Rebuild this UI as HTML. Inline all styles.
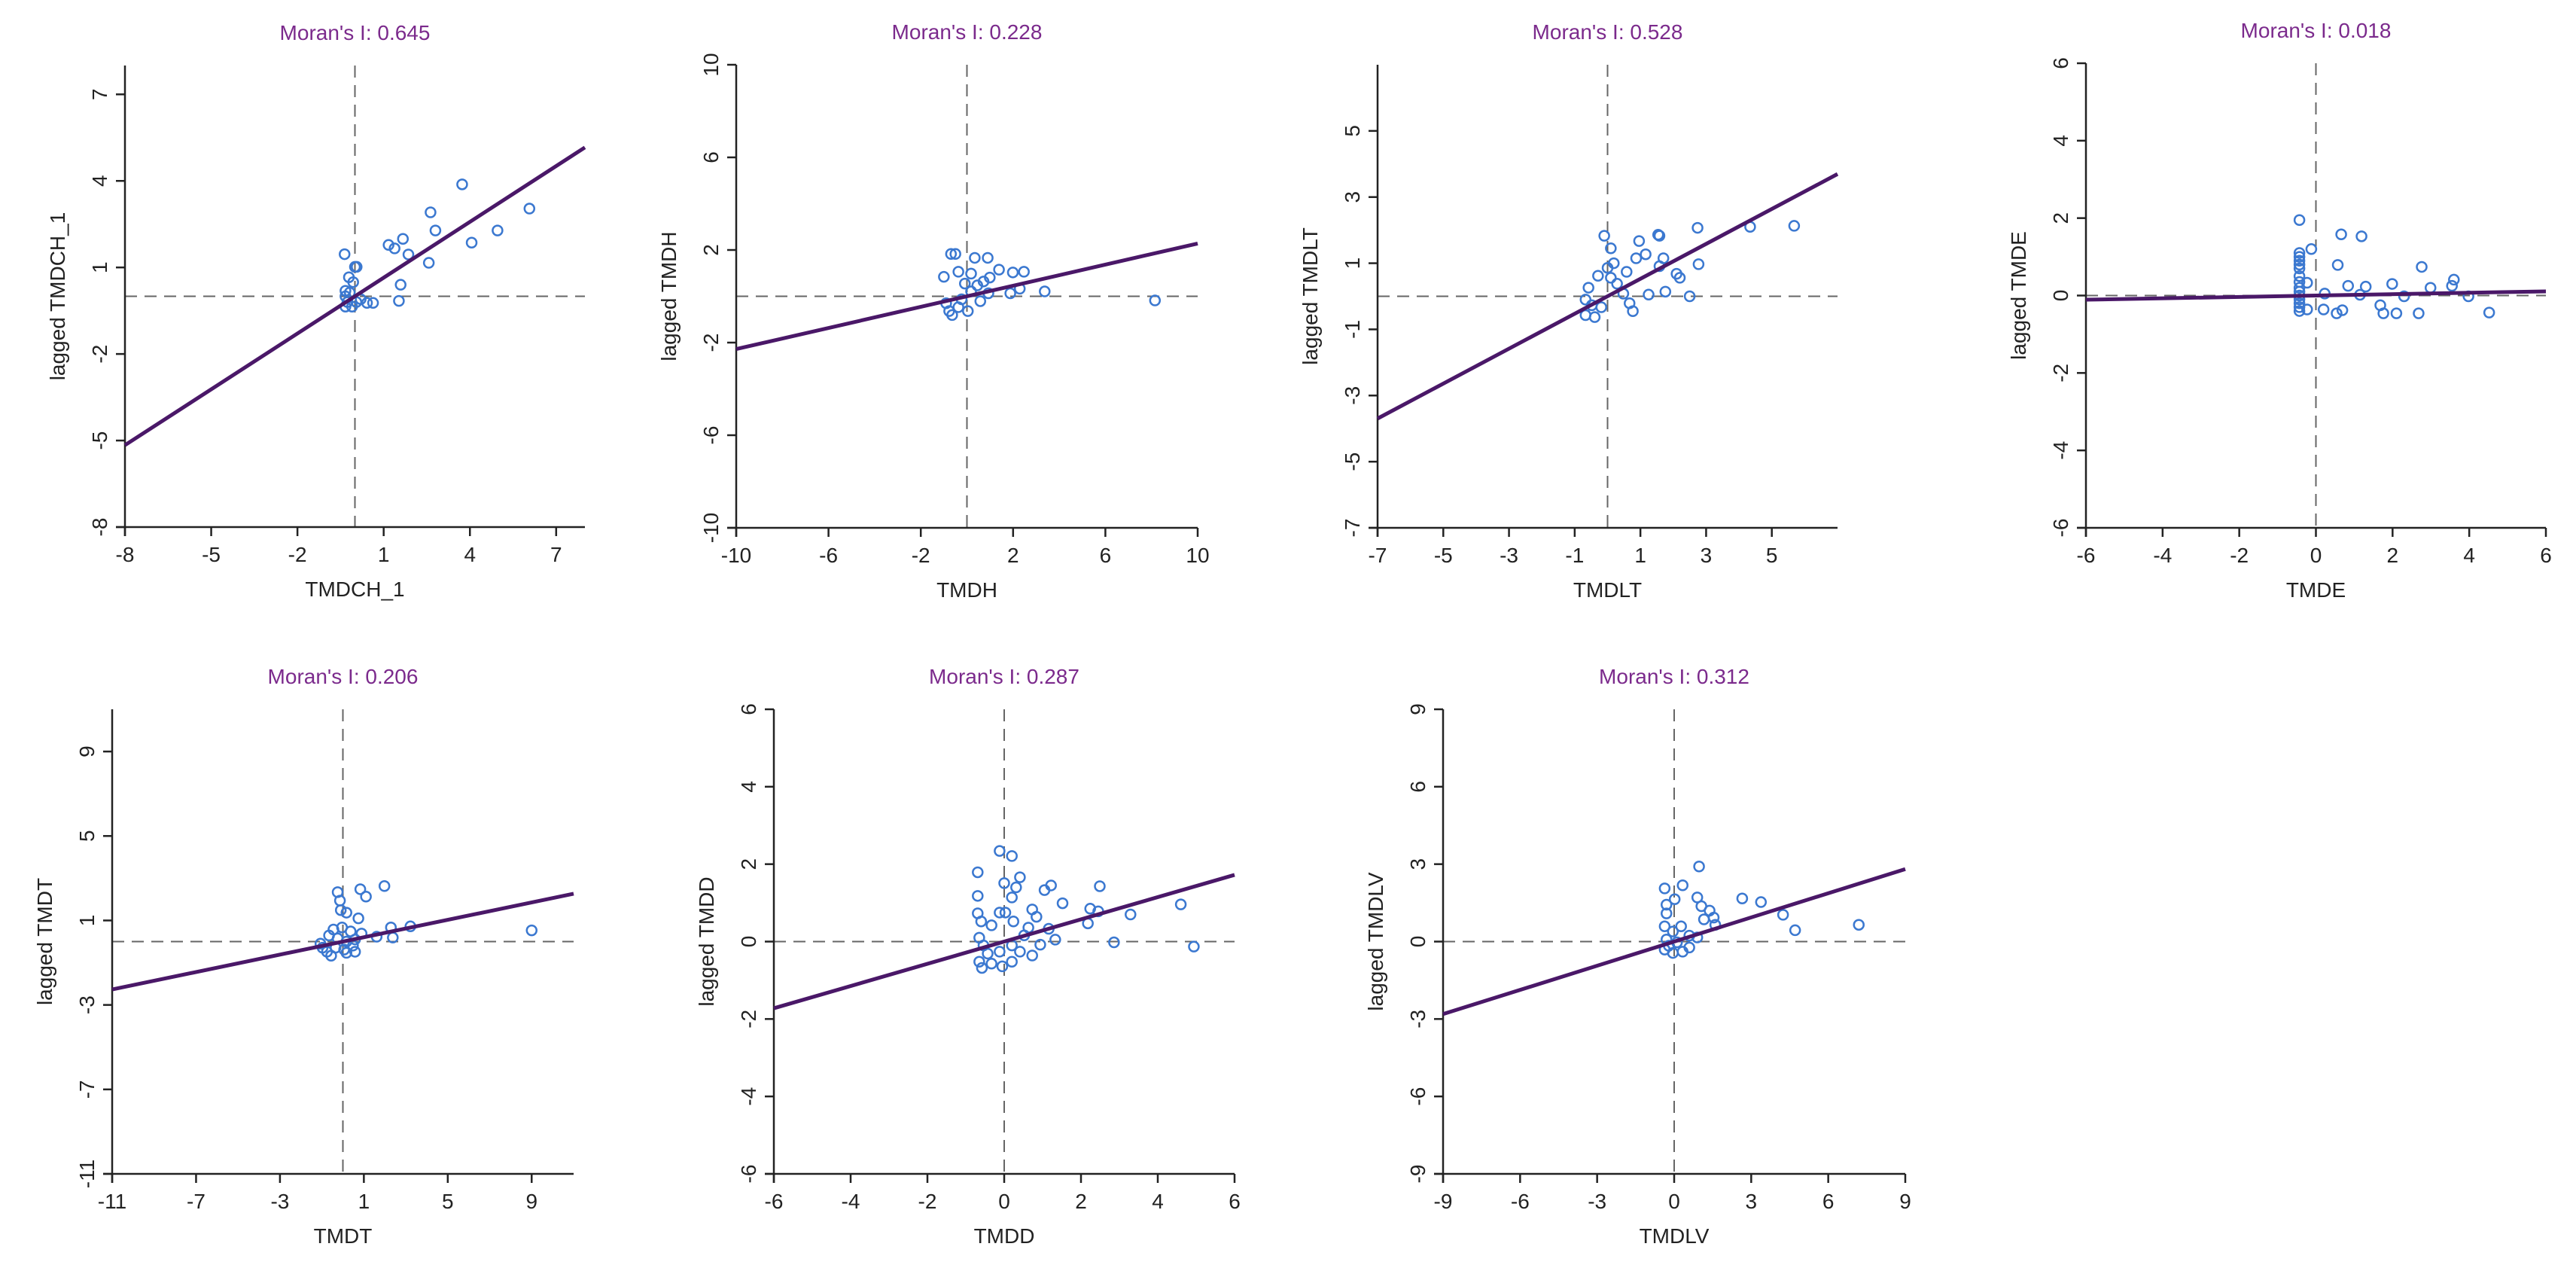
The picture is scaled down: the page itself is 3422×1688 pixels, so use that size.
<!DOCTYPE html>
<html><head><meta charset="utf-8"><style>
html,body{margin:0;padding:0;background:#fff;}
svg{display:block;font-family:"Liberation Sans",Arial,sans-serif;}
</style></head><body>
<svg id="chart" width="3422" height="1688" viewBox="0 0 3422 1688" xmlns="http://www.w3.org/2000/svg"></svg>
<script>
// ----- data -----
const panelVars = ["TMDCH_1","TMDH","TMDLT","TMDE","TMDT","TMDD","TMDLV"];
const moranI = [0.645,0.228,0.528,0.018,0.206,0.287,0.312];
const ranges = [8,10,7,6,11,6,9];
const ticks1 = [-8,-5,-2,1,4,7];
const ticks2 = [-10,-6,-2,2,6,10];
const ticks3 = [-7,-5,-3,-1,1,3,5];
const ticks4 = [-6,-4,-2,0,2,4,6];
const ticks5 = [-11,-7,-3,1,5,9];
const ticks6 = [-6,-4,-2,0,2,4,6];
const ticks7 = [-9,-6,-3,0,3,6,9];
const p1X = [3.73,6.07,2.63,2.80,4.96,4.06,1.67,1.17,1.38,1.86,2.57,1.59,1.53,-0.36,0,0.06,-0.21,-0.06,-0.33,-0.33,-0.26,-0.33,-0.1,0.05,0.2,0.42,0.63,-0.18];
const p1Y = [3.88,3.04,2.91,2.28,2.28,1.86,1.99,1.78,1.66,1.45,1.16,0.40,-0.16,1.46,1.02,1.02,0.66,0.49,0.19,0,-0.2,-0.36,-0.36,-0.2,-0.1,-0.23,-0.23,0.13];
const p2X = [-0.69,-0.5,0.34,0.9,-1,-0.37,0.18,1.39,1.99,2.47,2.29,1.88,3.37,8.15,-0.9,-0.77,-0.64,-0.37,0.04,-0.23,0.18,0.45,0.72,0.99,0.58,0.93,-0.09];
const p2Y = [1.83,1.83,1.66,1.66,0.84,1.06,0.98,1.15,1.03,1.06,0.33,0.13,0.21,-0.18,-0.3,-0.64,-0.81,-0.47,-0.64,-0.13,0.21,0.47,0.64,0.81,-0.21,0.13,0.55];
const p3X = [-0.1,0.1,0.96,1.54,1.16,0.87,0.19,0,-0.29,-0.58,-0.67,-0.67,-0.39,-0.19,-0.48,0.29,0.48,0.67,0.77,1.25,0.1,0.58,2.74,4.34,5.68,2.77,2.1,2.2,1.76,2.5,1.7,1.58,1.58];
const p3Y = [1.83,1.45,1.67,1.86,1.27,1.15,1.0,0.86,0.62,0.26,-0.1,-0.57,-0.63,-0.33,-0.27,0.38,0.08,-0.21,-0.45,0.05,0.56,0.74,2.07,2.1,2.13,0.97,0.68,0.56,0.14,0,1.15,1.83,0.91];
const p4X = [-0.43,-0.43,-0.43,-0.43,-0.43,-0.43,-0.43,-0.43,-0.43,-0.43,-0.43,-0.43,-0.43,-0.43,-0.43,-0.12,0.66,1.19,0.57,2.76,-0.23,0.84,1.3,1.99,2.99,3.6,3.55,3.98,2.3,0.23,1.15,0.2,0.54,0.69,1.68,1.76,2.1,2.68,4.52,-0.23];
const p4Y = [1.95,1.1,1.0,0.9,0.8,0.7,0.5,0.35,0.2,0.1,0,-0.1,-0.2,-0.3,-0.4,1.2,1.58,1.53,0.79,0.74,0.33,0.25,0.23,0.3,0.2,0.41,0.25,-0.02,-0.02,0.05,0.02,-0.36,-0.46,-0.38,-0.25,-0.46,-0.46,-0.46,-0.44,-0.36];
const p5X = [-0.25,-0.14,0.83,1.1,1.98,-0.1,0.17,0.74,2.29,3.22,2.38,1.61,9.0,-0.45,-0.04,0.37,0.89,-0.66,-0.25,0.17,0.58,-0.97,-0.76,-0.56,0.17,0.58,0.48,-1.07,-0.35,0.06];
const p5Y = [2.34,1.94,2.48,2.13,2.63,1.49,1.37,1.1,0.67,0.72,0.19,0.23,0.53,0.57,0.67,0.48,0.38,0.29,0.15,0,0.1,-0.29,-0.48,-0.67,-0.53,-0.48,-0.19,-0.1,-0.29,-0.38];
const p6X = [-0.12,0.2,-0.69,0.41,0,0.31,1.22,1.05,2.49,-0.69,0.2,1.52,4.6,2.24,2.45,3.29,-0.12,0.03,0.73,0.84,-0.69,-0.6,-0.33,0.24,0.63,1.16,2.18,1.33,2.86,4.94,0.94,-0.65,-0.54,-0.43,-0.65,-0.33,-0.05,0.2,0.41,0.73,-0.12,0.2,0.52,-0.58];
const p6Y = [2.34,2.21,1.79,1.66,1.51,1.4,1.45,1.33,1.43,1.18,1.14,0.99,0.96,0.85,0.78,0.7,0.75,0.75,0.83,0.64,0.73,0.52,0.42,0.52,0.36,0.33,0.47,0.05,-0.02,-0.13,-0.08,0.1,-0.1,-0.31,-0.52,-0.57,-0.64,-0.52,-0.26,-0.36,-0.26,-0.1,0.16,-0.68];
const p7X = [0.97,-0.37,0.33,0.02,-0.3,-0.3,0.9,1.06,1.38,1.54,1.16,2.65,3.38,4.24,4.71,7.19,1.6,-0.37,0.27,-0.05,0.59,0.9,-0.3,0.11,-0.37,-0.05,0.33,0.59,-0.21];
const p7Y = [2.91,2.06,2.18,1.64,1.43,1.09,1.71,1.37,1.2,0.93,0.86,1.67,1.53,1.04,0.44,0.65,0.65,0.59,0.59,0.39,0.23,0.16,0.08,-0.03,-0.31,-0.44,-0.39,-0.23,-0.16];

const allX=[p1X,p2X,p3X,p4X,p5X,p6X,p7X];
const allY=[p1Y,p2Y,p3Y,p4Y,p5Y,p6Y,p7Y];
const allTicks=[ticks1,ticks2,ticks3,ticks4,ticks5,ticks6,ticks7];
// layout boxes: left, right, top, bottom (pixel frames)
const boxes=[[166,777,87,700],[978,1591,86,701],[1830,2441,86,701],[2771,3382,84,701],
             [149,762,942,1559],[1028,1640,942,1559],[1917,2531,942,1559]];

const NS="http://www.w3.org/2000/svg";
const svg=document.getElementById('chart');
function mk(tag,attrs,parent){const e=document.createElementNS(NS,tag);for(const k in attrs)e.setAttribute(k,attrs[k]);(parent||svg).appendChild(e);return e;}

for(let p=0;p<7;p++){
  const [L,R,T,B]=boxes[p]; const r=ranges[p];
  const sx=v=>L+(v+r)/(2*r)*(R-L);
  const sy=v=>B-(v+r)/(2*r)*(B-T);
  const g=mk('g',{});
  
  
  const title=mk('text',{x:(L+R)/2,y:T-34,'text-anchor':'middle','font-size':28,fill:'#7b2a8c'},g);
  title.textContent="Moran's I: "+moranI[p].toFixed(3);
  
  
  // dashed reference lines
  const vd=mk('line',{x1:sx(0),x2:sx(0),y1:T,y2:B,stroke:'#666','stroke-width':2,'stroke-dasharray':'16 10'},g);
  
  
  const hd=mk('line',{x1:L,x2:R,y1:sy(0),y2:sy(0),stroke:'#666','stroke-width':2,'stroke-dasharray':'16 10'},g);
  
  
  // axes
  const xa=mk('line',{x1:L-12,x2:R,y1:B,y2:B,stroke:'#222','stroke-width':2.5},g);
  
  
  const ya=mk('line',{x1:L,x2:L,y1:T,y2:B+12,stroke:'#222','stroke-width':2.5},g);
  
  
  for(const t of allTicks[p]){
    mk('line',{x1:sx(t),x2:sx(t),y1:B,y2:B+12,stroke:'#222','stroke-width':2.5},g);
    const xl=mk('text',{x:sx(t),y:B+46,'text-anchor':'middle','font-size':28,fill:'#222'},g);
    xl.textContent=String(t);
    
    
    mk('line',{x1:L-12,x2:L,y1:sy(t),y2:sy(t),stroke:'#222','stroke-width':2.5},g);
    const yl=mk('text',{x:0,y:0,'text-anchor':'middle','font-size':28,fill:'#222',transform:`translate(${L-24},${sy(t)}) rotate(-90)`},g);
    yl.textContent=String(t);
    
    
  }
  const xt=mk('text',{x:(L+R)/2,y:B+92,'text-anchor':'middle','font-size':28,fill:'#222'},g);
  xt.textContent=panelVars[p];
  
  
  const yt=mk('text',{x:0,y:0,'text-anchor':'middle','font-size':28,fill:'#222',transform:`translate(${L-80},${(T+B)/2}) rotate(-90)`},g);
  yt.textContent='lagged '+panelVars[p];
  
  
  // points
  const xs=allX[p], ys=allY[p];
  for(let i=0;i<xs.length;i++){
    const c=mk('circle',{cx:sx(xs[i]),cy:sy(ys[i]),r:6.5,fill:'none',stroke:'#3b78d0','stroke-width':2.5},g);
    
    
  }
  // regression line
  const rl=mk('line',{x1:sx(-r),y1:sy(-r*moranI[p]),x2:sx(r),y2:sy(r*moranI[p]),stroke:'#4a1868','stroke-width':5},g);
  
  
}
</script>
</body></html>
